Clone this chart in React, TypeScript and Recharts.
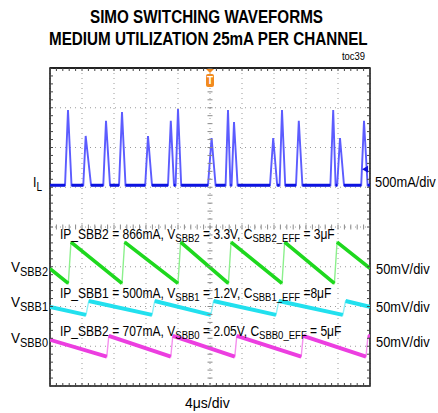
import React from "react";
import {
  ComposedChart,
  Line,
  Scatter,
  XAxis,
  YAxis,
  CartesianGrid,
  ReferenceArea,
  ReferenceLine,
} from "recharts";

// scope screen: 10 x 8 divisions, 4us/div, values below are in divisions
const xTicks = [0, 4, 8, 12, 16, 20, 24, 28, 32, 36, 40];
const yTicks = [0, 1, 2, 3, 4, 5, 6, 7, 8];
const minorX = Array.from({ length: 51 }, (_, i) => +(i * 0.8).toFixed(2));
const minorY = Array.from({ length: 41 }, (_, i) => +(i * 0.2).toFixed(2));

// inductor current pulses: [rise start, peak, fall end] (us), peak level (div)
const IL_BASE = 5.05;
const ilPulses = [
  [1.88, 2.25, 2.69, 6.94],
  [4.16, 4.46, 5.13, 6.29],
  [6.66, 7.0, 7.5, 6.67],
  [8.63, 9.0, 9.44, 6.89],
  [11.9, 12.25, 12.75, 6.29],
  [14.75, 15.1, 15.5, 6.67],
  [15.7, 16.0, 16.4, 6.97],
  [19.75, 20.2, 20.7, 6.24],
  [21.95, 22.25, 22.55, 6.94],
  [22.7, 23.0, 23.45, 6.64],
  [27.5, 27.9, 28.4, 6.24],
  [28.7, 29.0, 29.4, 6.94],
  [30.75, 31.1, 31.55, 6.67],
  [35.05, 35.4, 35.7, 6.94],
  [35.9, 36.25, 36.75, 6.24],
  [38.9, 39.25, 39.7, 6.67],
];

// output ripple: times where each output gets recharged (us)
const sbb2Jumps = [2.29, 9.0, 16.0, 22.3, 29.0, 35.55];
const sbb1Jumps = [4.5, 12.75, 20.1, 28.25, 36.6];
const sbb0Jumps = [7.1, 15.1, 23.1, 31.4, 39.5];
const sbb2Level = { start: 2.95, top: 3.62, bottom: 2.58, end: 2.96, rise: 0.33 };
const sbb1Level = { start: 1.99, top: 2.14, bottom: 1.79, end: 1.99, rise: 0.35 };
const sbb0Level = { start: 1.16, top: 1.26, bottom: 0.74, end: 1.25, rise: 0.25 };

function ilTrace() {
  const full = [{ t: 0, v: IL_BASE }];
  const base = [{ t: 0, v: IL_BASE }];
  ilPulses.forEach(([s, p, e, pk]) => {
    full.push({ t: s, v: IL_BASE }, { t: p, v: pk }, { t: e, v: IL_BASE });
    base.push({ t: s, v: IL_BASE }, { t: p, v: null }, { t: e, v: IL_BASE });
  });
  full.push({ t: 40, v: IL_BASE });
  base.push({ t: 40, v: IL_BASE });
  return { full, base };
}

function sawtooth(jumps, lv) {
  const full = [{ t: 0, v: lv.start }];
  const ramp = [{ t: 0, v: lv.start }];
  jumps.forEach((j) => {
    full.push({ t: j, v: lv.bottom }, { t: j + lv.rise, v: lv.top });
    ramp.push({ t: j, v: lv.bottom }, { t: j + lv.rise / 2, v: null }, { t: j + lv.rise, v: lv.top });
  });
  full.push({ t: 40, v: lv.end });
  ramp.push({ t: 40, v: lv.end });
  return { full, ramp };
}

const il = ilTrace();
const sbb2 = sawtooth(sbb2Jumps, sbb2Level);
const sbb1 = sawtooth(sbb1Jumps, sbb1Level);
const sbb0 = sawtooth(sbb0Jumps, sbb0Level);

const tickShape = (dx1, dy1, dx2, dy2, color) => (p) =>
  <line x1={p.cx + dx1} y1={p.cy + dy1} x2={p.cx + dx2} y2={p.cy + dy2} stroke={color} strokeWidth={1} />;

const triggerShape = (p) => (
  <g>
    <path d={`M${p.cx - 4},${p.cy + 1} L${p.cx + 4},${p.cy + 1} L${p.cx},${p.cy + 5} Z`} fill="#f28a1e" />
    <rect x={p.cx - 4} y={p.cy + 6} width={8} height={13} rx={2} fill="#f28a1e" />
    <text x={p.cx} y={p.cy + 16} fill="#fff" fontSize={10} fontWeight="bold" textAnchor="middle"
      fontFamily="'Liberation Sans', Arial, sans-serif">T</text>
  </g>
);

const groundShape = (p) => (
  <path d={`M${p.cx - 3},${p.cy} L${p.cx + 3},${p.cy - 3.5} L${p.cx + 3},${p.cy + 3.5} Z`} fill="#1010d8" />
);

const font = "'Liberation Sans', Arial, sans-serif";

// the original uses a narrow face: squeeze text horizontally
function Narrow({ x, y, sx, children }) {
  return <g transform={`translate(${x},${y}) scale(${sx},1)`}>{children}</g>;
}

function Ann({ x, y, parts }) {
  // parts alternate normal text and subscript text
  return (
    <Narrow x={x} y={y} sx={0.83}>
      <text x={0} y={0} fontSize={14.5}>
        {parts.map((s, i) =>
          i % 2 === 0 ? (
            <tspan key={i} dy={i === 0 ? 0 : -2.5}>{s}</tspan>
          ) : (
            <tspan key={i} dy={2.5} fontSize={11.5}>{s}</tspan>
          )
        )}
      </text>
    </Narrow>
  );
}

function ChLabel({ x, y, sx, main, sub }) {
  return (
    <Narrow x={x} y={y} sx={sx}>
      <text x={0} y={0} fontSize={15.5}>
        {main}
        <tspan dy={4} fontSize={12.5}>{sub}</tspan>
      </text>
    </Narrow>
  );
}

function Plain({ x, y, sx, size, bold, children }) {
  return (
    <Narrow x={x} y={y} sx={sx}>
      <text x={0} y={0} fontSize={size} fontWeight={bold ? "bold" : "normal"}>{children}</text>
    </Narrow>
  );
}

export default function App() {
  return (
    <div style={{ position: "absolute", left: 0, top: 0, width: 438, height: 413, background: "#fff" }}>
      <ComposedChart width={438} height={413} margin={{ top: 68, right: 68, bottom: 27, left: 50 }}>
        <XAxis hide type="number" dataKey="t" domain={[0, 40]} ticks={xTicks} allowDataOverflow />
        <YAxis hide type="number" dataKey="v" domain={[0, 8]} ticks={yTicks} allowDataOverflow />
        <CartesianGrid stroke="#9a9a9a" strokeDasharray="1 4" />
        <Line data={il.full} dataKey="v" stroke="#5c5cff" strokeWidth={1.9} dot={false} isAnimationActive={false} />
        <Line data={il.base} dataKey="v" stroke="#0d14e0" strokeWidth={3.2} dot={false} isAnimationActive={false} />
        <Line data={sbb2.full} dataKey="v" stroke="#8cf08c" strokeWidth={1.4} dot={false} isAnimationActive={false} />
        <Line data={sbb2.ramp} dataKey="v" stroke="#1ed81e" strokeWidth={3.6} dot={false} isAnimationActive={false} />
        <Line data={sbb1.full} dataKey="v" stroke="#8ef0f6" strokeWidth={1.4} dot={false} isAnimationActive={false} />
        <Line data={sbb1.ramp} dataKey="v" stroke="#22e0ee" strokeWidth={4} dot={false} isAnimationActive={false} />
        <Line data={sbb0.full} dataKey="v" stroke="#f590ee" strokeWidth={1.4} dot={false} isAnimationActive={false} />
        <Line data={sbb0.ramp} dataKey="v" stroke="#ec3ee0" strokeWidth={3.8} dot={false} isAnimationActive={false} />
        <Scatter data={minorX.map((t) => ({ t, v: 8 }))} shape={tickShape(0, 0, 0, 3, "#444")} isAnimationActive={false} />
        <Scatter data={minorX.map((t) => ({ t, v: 0 }))} shape={tickShape(0, 0, 0, -3, "#444")} isAnimationActive={false} />
        <Scatter data={minorX.map((t) => ({ t, v: 4 }))} shape={tickShape(0, -2.5, 0, 2.5, "#8a8a8a")} isAnimationActive={false} />
        <Scatter data={minorY.map((v) => ({ t: 0, v }))} shape={tickShape(0, 0, 3, 0, "#444")} isAnimationActive={false} />
        <Scatter data={minorY.map((v) => ({ t: 40, v }))} shape={tickShape(0, 0, -3, 0, "#444")} isAnimationActive={false} />
        <Scatter data={minorY.map((v) => ({ t: 20, v }))} shape={tickShape(-2.5, 0, 2.5, 0, "#8a8a8a")} isAnimationActive={false} />
        <ReferenceArea x1={0} x2={40} y1={0} y2={8} fill="none" fillOpacity={0} stroke="#111" strokeWidth={1.5} ifOverflow="visible" />
        <ReferenceLine y={8} stroke="#222" strokeWidth={2.2} ifOverflow="visible" />
        <Scatter data={[{ t: 20, v: 8 }]} shape={triggerShape} isAnimationActive={false} />
        <Scatter data={[{ t: 39.38, v: 5.45 }]} shape={groundShape} isAnimationActive={false} />
      </ComposedChart>
      <svg width={438} height={413} style={{ position: "absolute", left: 0, top: 0, pointerEvents: "none" }}
        fontFamily={font} fill="#000">
        <Plain x={90} y={22.7} sx={0.87} size={17.5} bold>SIMO SWITCHING WAVEFORMS</Plain>
        <Plain x={49} y={45} sx={0.87} size={17.5} bold>MEDIUM UTILIZATION 25mA PER CHANNEL</Plain>
        <Plain x={342} y={60} sx={0.9} size={10.5}>toc39</Plain>

        <Ann x={60} y={239.3} parts={["IP_SBB2 = 866mA, V", "SBB2", " = 3.3V, C", "SBB2_EFF", " = 3μF"]} />
        <Ann x={60} y={298.3} parts={["IP_SBB1 = 500mA, V", "SBB1", " = 1.2V, C", "SBB1_EFF", " =8μF"]} />
        <Ann x={60} y={336} parts={["IP_SBB2 = 707mA, V", "SBB0", " = 2.05V, C", "SBB0_EFF", " = 5μF"]} />

        <ChLabel x={33} y={186.7} sx={0.8} main="I" sub="L" />
        <ChLabel x={11} y={271.7} sx={0.875} main="V" sub="SBB2" />
        <ChLabel x={11} y={306.7} sx={0.875} main="V" sub="SBB1" />
        <ChLabel x={11} y={342.7} sx={0.875} main="V" sub="SBB0" />

        <Plain x={375} y={186.7} sx={0.92} size={14}>500mA/div</Plain>
        <Plain x={376} y={273.5} sx={0.92} size={14}>50mV/div</Plain>
        <Plain x={376} y={311.7} sx={0.92} size={14}>50mV/div</Plain>
        <Plain x={376} y={346.7} sx={0.92} size={14}>50mV/div</Plain>
        <Plain x={185} y={408.3} sx={1} size={14}>4μs/div</Plain>
      </svg>
    </div>
  );
}
